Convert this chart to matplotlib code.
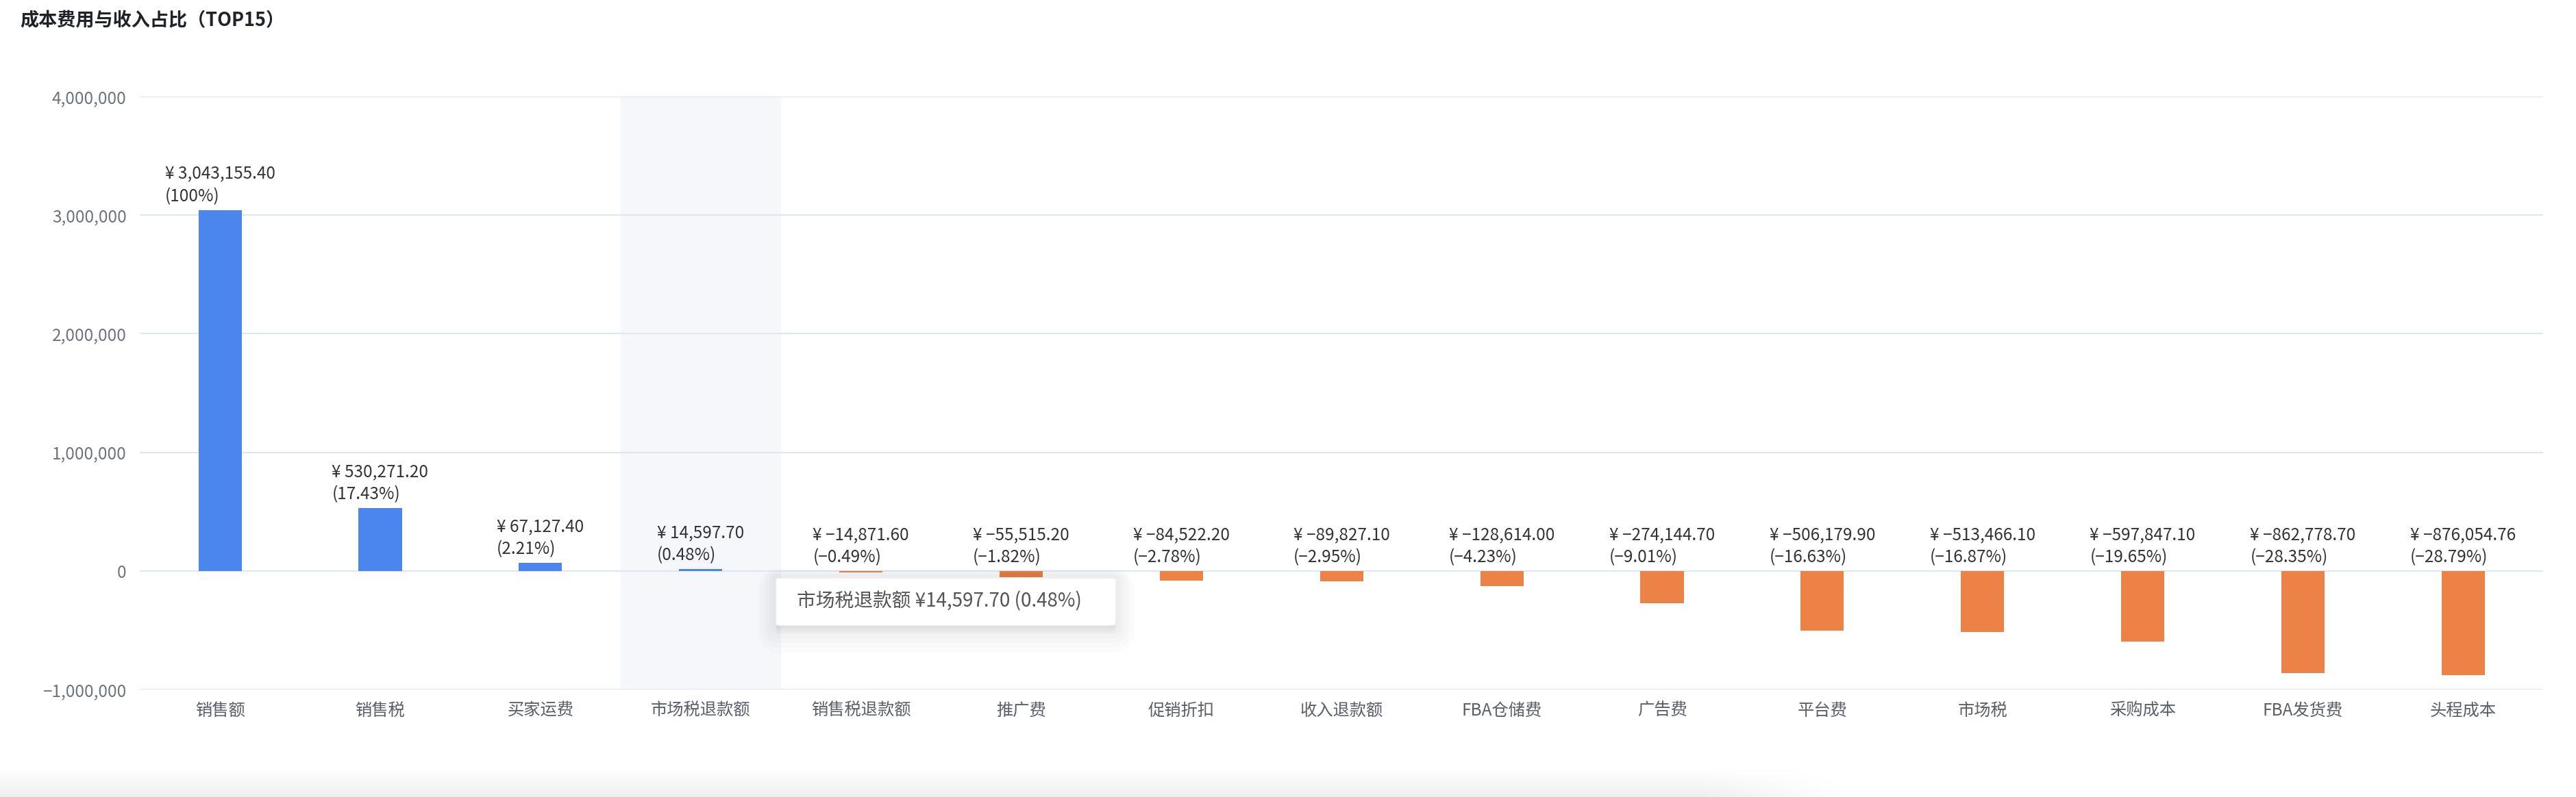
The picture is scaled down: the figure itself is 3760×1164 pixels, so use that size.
import numpy as np
import matplotlib
matplotlib.use('Agg')
import matplotlib.pyplot as plt
from matplotlib.ticker import FuncFormatter
from matplotlib.patches import FancyBboxPatch

plt.rcParams['font.family'] = ['Noto Sans CJK SC', 'DejaVu Sans']

# Data
categories = ['销售额', '销售税', '买家运费', '市场税退款额', '销售税退款额', '推广费', '促销折扣',
              '收入退款额', 'FBA仓储费', '广告费', '平台费', '市场税', '采购成本', 'FBA发货费', '头程成本']
values = [3043155.40, 530271.20, 67127.40, 14597.70, -14871.60, -55515.20, -84522.20,
          -89827.10, -128614.00, -274144.70, -506179.90, -513466.10, -597847.10, -862778.70, -876054.76]
percents = [100, 17.43, 2.21, 0.48, -0.49, -1.82, -2.78, -2.95, -4.23, -9.01, -16.63, -16.87,
            -19.65, -28.35, -28.79]
y_ticks = [-1000000, 0, 1000000, 2000000, 3000000, 4000000]
hover_index = 3

blue = '#4a86ee'
orange = '#ec8245'
grid_color = '#e2e6ef'


def money(v):
    return ('¥ ' + f'{v:,.2f}').replace('-', '−')


def pct(p):
    return (f'{p:g}%').replace('-', '−')


fig = plt.figure(figsize=(37.6, 11.64), dpi=100)
ax = fig.add_axes([0.0543, 0.1349, 0.9330, 0.7440])

x = np.arange(len(categories))
colors = [blue if v >= 0 else orange for v in values]

# hover highlight band
ax.axvspan(hover_index - 0.5, hover_index + 0.5, color='#f5f7fb', zorder=0, lw=0)

ax.bar(x, values, width=0.27, color=colors, zorder=3)

for i, v in enumerate(values):
    ax.annotate(money(values[i]) + '\n(' + pct(percents[i]) + ')', (i, max(v, 0)),
                xytext=(0, 5), textcoords='offset points', ha='center', va='bottom',
                multialignment='left', fontsize=17.5, color='#333333', linespacing=1.35,
                zorder=5)

ax.set_xlim(-0.5, len(categories) - 0.5)
ax.set_ylim(-1000000, 4000000)
ax.set_yticks(y_ticks)
ax.yaxis.set_major_formatter(FuncFormatter(lambda v, p: f'{v:,.0f}'.replace('-', '−')))
ax.set_xticks(x)
ax.set_xticklabels(categories)
ax.tick_params(axis='both', length=0, labelsize=17.5, colors='#6e7280')
ax.tick_params(axis='x', pad=13, colors='#595e6a')
ax.tick_params(axis='y', pad=14)
ax.grid(axis='y', color=grid_color, lw=1.6, zorder=1)
ax.set_axisbelow(True)
for s in ax.spines.values():
    s.set_visible(False)

# tooltip
tip_x, tip_y = hover_index + 0.47, -460000
tip_w, tip_h = 2.12, 400000
for k in range(6):
    shadow = FancyBboxPatch((tip_x, tip_y - 15000 * k), tip_w, tip_h,
                            boxstyle='round,pad=0,rounding_size=0.05',
                            mutation_aspect=tip_h / 0.5 / 4,
                            fc='black', ec='none', alpha=0.012, zorder=6,
                            lw=8 + 6 * k)
    shadow.set_edgecolor((0, 0, 0, 0.015))
    ax.add_patch(shadow)
tip = FancyBboxPatch((tip_x, tip_y), tip_w, tip_h,
                     boxstyle='round,pad=0,rounding_size=0.05',
                     mutation_aspect=tip_h / 0.5 / 4,
                     fc='white', ec='#f0f0f0', lw=1, zorder=7)
ax.add_patch(tip)
ax.text(tip_x + 0.13, tip_y + tip_h / 2,
        categories[hover_index] + ' ¥' + f'{values[hover_index]:,.2f}' + ' (' + pct(percents[hover_index]) + ')',
        ha='left', va='center', fontsize=20, color='#555555', zorder=8)

fig.text(0.0077, 1 - 30 / 1164, '成本费用与收入占比（TOP15）', fontsize=19.5, fontweight='bold',
         color='#1f2329', va='center', ha='left')

# soft shadow at the bottom edge
sh = fig.add_axes([0, 0, 0.72, 0.045])
grad = np.zeros((40, 200, 4))
vert = np.linspace(0, 1, 40)[:, None] ** 1.5
horiz = np.clip((1 - np.linspace(0, 1, 200)) / 0.08, 0, 1)[None, :]
grad[..., 3] = 0.07 * vert * horiz
sh.imshow(grad, aspect='auto', extent=[0, 1, 0, 1], origin='upper')
sh.axis('off')

fig.savefig('out.png', dpi=100, facecolor='white')
